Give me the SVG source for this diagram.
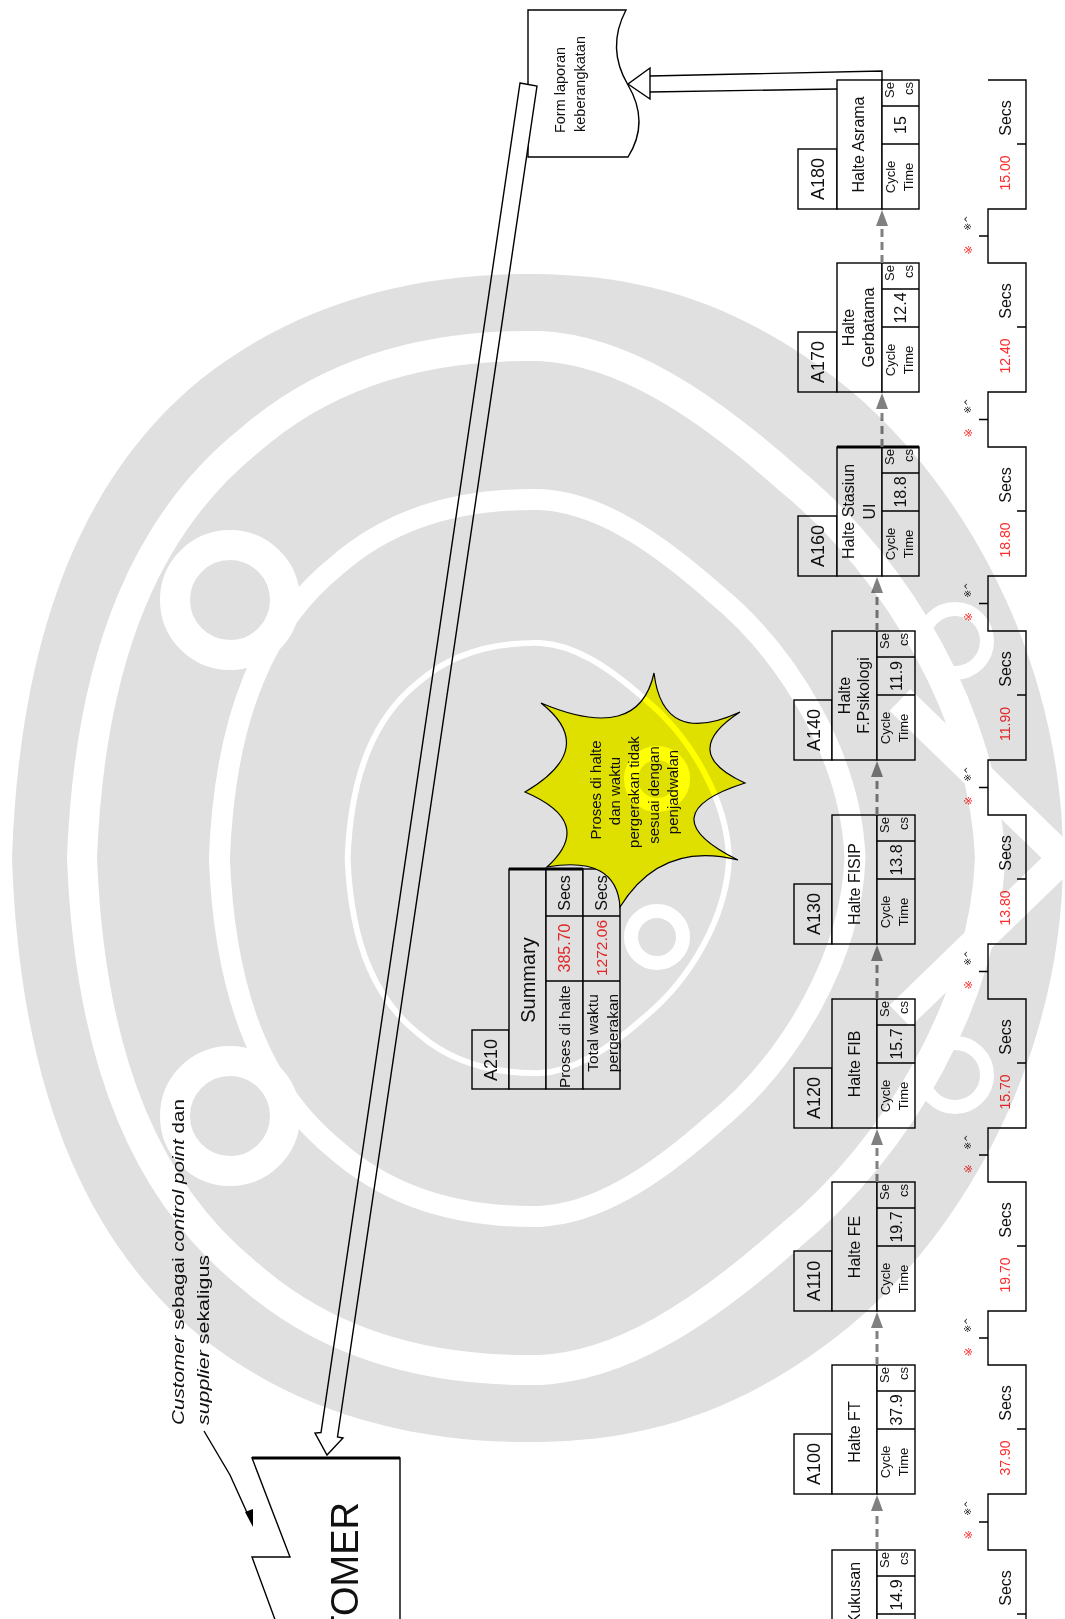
<svg xmlns="http://www.w3.org/2000/svg" width="1065" height="1619" viewBox="0 0 1065 1619">
<style>
text{font-family:"Liberation Sans",Arial,sans-serif;fill:#111}
.b{fill:#fff;stroke:#000;stroke-width:1.4}
.n{fill:none;stroke:#000;stroke-width:1.4}
.c{text-anchor:middle;dominant-baseline:central}
.e{text-anchor:end;dominant-baseline:central}
.s{text-anchor:start;dominant-baseline:central}
.red{fill:#ff2b2b}
.id{font-size:18px}
.nm{font-size:16px}
.dt{font-size:13px}
.vl{font-size:16px}
.ts{font-size:16px}
.tv{font-size:14px}
.g1{font-size:9px;font-family:"DejaVu Sans",sans-serif;fill:#000}
.g2{font-size:11px;font-family:"DejaVu Sans",sans-serif}
.dash{stroke:#808080;stroke-width:3;stroke-dasharray:8 5;fill:none}
.ah{fill:#808080}
.wb{fill:none;stroke:#fff;stroke-width:30}
.wt{fill:none;stroke:#fff;stroke-width:14}
</style>
<defs>
<path id="band" d="M990,858C985,720 900,570 790,480C700,400 620,350 540,346C430,344 330,370 250,440C150,520 90,650 82,858C90,1066 150,1196 250,1276C330,1346 430,1372 540,1370C620,1366 700,1316 790,1236C900,1146 985,996 990,858Z"/>
</defs>
<rect width="1065" height="1619" fill="#fff"/>

<g id="A180">
<rect class="b" x="798" y="149" width="39" height="60"/>
<rect class="b" x="837" y="80" width="45" height="129"/>
<rect class="b" x="882" y="80" width="37" height="129"/>
<path class="n" d="M882,106H919M882,144H919"/>
<text class="c id" transform="translate(818,179) rotate(-90)">A180</text>
<text class="c nm" transform="translate(858,144.5) rotate(-90)">Halte Asrama</text>
<text class="e dt" transform="translate(889,82) rotate(-90)">Se</text>
<text class="e dt" transform="translate(908,82) rotate(-90)">cs</text>
<text class="c vl" transform="translate(900.5,125) rotate(-90)">15</text>
<text class="c dt" transform="translate(890,177) rotate(-90)">Cycle</text>
<text class="c dt" transform="translate(908,177) rotate(-90)">Time</text>
</g>

<g id="A170">
<rect class="b" x="798" y="332" width="39" height="60"/>
<rect class="b" x="837" y="263" width="45" height="129"/>
<rect class="b" x="882" y="263" width="37" height="129"/>
<path class="n" d="M882,289H919M882,327H919"/>
<text class="c id" transform="translate(818,362) rotate(-90)">A170</text>
<text class="c nm" transform="translate(848.5,327.5) rotate(-90)">Halte</text>
<text class="c nm" transform="translate(868.5,327.5) rotate(-90)">Gerbatama</text>
<text class="e dt" transform="translate(889,265) rotate(-90)">Se</text>
<text class="e dt" transform="translate(908,265) rotate(-90)">cs</text>
<text class="c vl" transform="translate(900.5,308) rotate(-90)">12.4</text>
<text class="c dt" transform="translate(890,360) rotate(-90)">Cycle</text>
<text class="c dt" transform="translate(908,360) rotate(-90)">Time</text>
</g>

<g id="A160">
<rect class="b" x="798" y="516" width="39" height="60"/>
<rect class="b" x="837" y="447" width="45" height="129"/>
<rect class="b" x="882" y="447" width="37" height="129"/>
<path class="n" d="M882,473H919M882,511H919"/>
<path d="M837,447H919" stroke="#000" stroke-width="3"/>
<text class="c id" transform="translate(818,546) rotate(-90)">A160</text>
<text class="c nm" transform="translate(848.5,511.5) rotate(-90)">Halte Stasiun</text>
<text class="c nm" transform="translate(869,511.5) rotate(-90)">UI</text>
<text class="e dt" transform="translate(889,449) rotate(-90)">Se</text>
<text class="e dt" transform="translate(908,449) rotate(-90)">cs</text>
<text class="c vl" transform="translate(900.5,492) rotate(-90)">18.8</text>
<text class="c dt" transform="translate(890,544) rotate(-90)">Cycle</text>
<text class="c dt" transform="translate(908,544) rotate(-90)">Time</text>
</g>

<g id="A140">
<rect class="b" x="794" y="700" width="38" height="60"/>
<rect class="b" x="832" y="631" width="45" height="129"/>
<rect class="b" x="877" y="631" width="38" height="129"/>
<path class="n" d="M877,657H915M877,695H915"/>
<text class="c id" transform="translate(813.5,730) rotate(-90)">A140</text>
<text class="c nm" transform="translate(844,695.5) rotate(-90)">Halte</text>
<text class="c nm" transform="translate(863,695.5) rotate(-90)">F.Psikologi</text>
<text class="e dt" transform="translate(884,633) rotate(-90)">Se</text>
<text class="e dt" transform="translate(903,633) rotate(-90)">cs</text>
<text class="c vl" transform="translate(896,676) rotate(-90)">11.9</text>
<text class="c dt" transform="translate(885,728) rotate(-90)">Cycle</text>
<text class="c dt" transform="translate(903,728) rotate(-90)">Time</text>
</g>

<g id="A130">
<rect class="b" x="794" y="884" width="38" height="60"/>
<rect class="b" x="832" y="815" width="45" height="129"/>
<rect class="b" x="877" y="815" width="38" height="129"/>
<path class="n" d="M877,841H915M877,879H915"/>
<text class="c id" transform="translate(813.5,914) rotate(-90)">A130</text>
<text class="c nm" transform="translate(854,884) rotate(-90)">Halte FISIP</text>
<text class="e dt" transform="translate(884,817) rotate(-90)">Se</text>
<text class="e dt" transform="translate(903,817) rotate(-90)">cs</text>
<text class="c vl" transform="translate(896,860) rotate(-90)">13.8</text>
<text class="c dt" transform="translate(885,912) rotate(-90)">Cycle</text>
<text class="c dt" transform="translate(903,912) rotate(-90)">Time</text>
</g>

<g id="A120">
<rect class="b" x="794" y="1068" width="38" height="60"/>
<rect class="b" x="832" y="999" width="45" height="129"/>
<rect class="b" x="877" y="999" width="38" height="129"/>
<path class="n" d="M877,1025H915M877,1063H915"/>
<text class="c id" transform="translate(813.5,1098) rotate(-90)">A120</text>
<text class="c nm" transform="translate(854,1064) rotate(-90)">Halte FIB</text>
<text class="e dt" transform="translate(884,1001) rotate(-90)">Se</text>
<text class="e dt" transform="translate(903,1001) rotate(-90)">cs</text>
<text class="c vl" transform="translate(896,1044) rotate(-90)">15.7</text>
<text class="c dt" transform="translate(885,1096) rotate(-90)">Cycle</text>
<text class="c dt" transform="translate(903,1096) rotate(-90)">Time</text>
</g>

<g id="A110">
<rect class="b" x="794" y="1251" width="38" height="60"/>
<rect class="b" x="832" y="1182" width="45" height="129"/>
<rect class="b" x="877" y="1182" width="38" height="129"/>
<path class="n" d="M877,1208H915M877,1246H915"/>
<text class="c id" transform="translate(813.5,1281) rotate(-90)">A110</text>
<text class="c nm" transform="translate(854,1247) rotate(-90)">Halte FE</text>
<text class="e dt" transform="translate(884,1184) rotate(-90)">Se</text>
<text class="e dt" transform="translate(903,1184) rotate(-90)">cs</text>
<text class="c vl" transform="translate(896,1227) rotate(-90)">19.7</text>
<text class="c dt" transform="translate(885,1279) rotate(-90)">Cycle</text>
<text class="c dt" transform="translate(903,1279) rotate(-90)">Time</text>
</g>

<g id="A100">
<rect class="b" x="794" y="1434" width="38" height="60"/>
<rect class="b" x="832" y="1365" width="45" height="129"/>
<rect class="b" x="877" y="1365" width="38" height="129"/>
<path class="n" d="M877,1391H915M877,1429H915"/>
<text class="c id" transform="translate(813.5,1464) rotate(-90)">A100</text>
<text class="c nm" transform="translate(854,1432) rotate(-90)">Halte FT</text>
<text class="e dt" transform="translate(884,1367) rotate(-90)">Se</text>
<text class="e dt" transform="translate(903,1367) rotate(-90)">cs</text>
<text class="c vl" transform="translate(896,1410) rotate(-90)">37.9</text>
<text class="c dt" transform="translate(885,1462) rotate(-90)">Cycle</text>
<text class="c dt" transform="translate(903,1462) rotate(-90)">Time</text>
</g>

<g id="Kukusan">
<rect class="b" x="832" y="1550" width="45" height="129"/>
<rect class="b" x="877" y="1550" width="38" height="129"/>
<path class="n" d="M877,1576H915M877,1614H915"/>
<text class="c nm" transform="translate(854,1614) rotate(-90)">Halte Kukusan</text>
<text class="e dt" transform="translate(884,1552) rotate(-90)">Se</text>
<text class="e dt" transform="translate(903,1552) rotate(-90)">cs</text>
<text class="c vl" transform="translate(896,1595) rotate(-90)">14.9</text>
</g>

<g id="timeline">
<path class="n" d="M988,80H1026V209H988V263H1026V392H988V447H1026V576H988V631H1026V760H988V815H1026V944H988V999H1026V1128H988V1182H1026V1311H988V1365H1026V1494H988V1550H1026V1625"/>
<path class="n" d="M1017,144H1026M1017,327H1026M1017,511H1026M1017,695H1026M1017,879H1026M1017,1063H1026M1017,1246H1026M1017,1429H1026M1017,1614H1026M979,236H988M979,419.5H988M979,603.5H988M979,787.5H988M979,971.5H988M979,1155H988M979,1338H988M979,1522H988"/>
<text class="c ts" transform="translate(1005,118) rotate(-90)">Secs</text>
<text class="c ts" transform="translate(1005,301) rotate(-90)">Secs</text>
<text class="c ts" transform="translate(1005,485) rotate(-90)">Secs</text>
<text class="c ts" transform="translate(1005,669) rotate(-90)">Secs</text>
<text class="c ts" transform="translate(1005,853) rotate(-90)">Secs</text>
<text class="c ts" transform="translate(1005,1037) rotate(-90)">Secs</text>
<text class="c ts" transform="translate(1005,1220) rotate(-90)">Secs</text>
<text class="c ts" transform="translate(1005,1403) rotate(-90)">Secs</text>
<text class="c ts" transform="translate(1005,1588) rotate(-90)">Secs</text>
<text class="c tv red" transform="translate(1005,173) rotate(-90)">15.00</text>
<text class="c tv red" transform="translate(1005,356) rotate(-90)">12.40</text>
<text class="c tv red" transform="translate(1005,540) rotate(-90)">18.80</text>
<text class="c tv red" transform="translate(1005,724) rotate(-90)">11.90</text>
<text class="c tv red" transform="translate(1005,908) rotate(-90)">13.80</text>
<text class="c tv red" transform="translate(1005,1092) rotate(-90)">15.70</text>
<text class="c tv red" transform="translate(1005,1275) rotate(-90)">19.70</text>
<text class="c tv red" transform="translate(1005,1458) rotate(-90)">37.90</text>
<text class="c g1" transform="translate(968,223) rotate(-90)">※^</text>
<text class="c g1" transform="translate(968,406) rotate(-90)">※^</text>
<text class="c g1" transform="translate(968,590) rotate(-90)">※^</text>
<text class="c g1" transform="translate(968,774) rotate(-90)">※^</text>
<text class="c g1" transform="translate(968,958) rotate(-90)">※^</text>
<text class="c g1" transform="translate(968,1142) rotate(-90)">※^</text>
<text class="c g1" transform="translate(968,1325) rotate(-90)">※^</text>
<text class="c g1" transform="translate(968,1508) rotate(-90)">※^</text>
<text class="c g2 red" transform="translate(968,250) rotate(-90)">※</text>
<text class="c g2 red" transform="translate(968,433) rotate(-90)">※</text>
<text class="c g2 red" transform="translate(968,617) rotate(-90)">※</text>
<text class="c g2 red" transform="translate(968,801) rotate(-90)">※</text>
<text class="c g2 red" transform="translate(968,985) rotate(-90)">※</text>
<text class="c g2 red" transform="translate(968,1169) rotate(-90)">※</text>
<text class="c g2 red" transform="translate(968,1352) rotate(-90)">※</text>
<text class="c g2 red" transform="translate(968,1535) rotate(-90)">※</text>
</g>

<g id="A210">
<rect class="b" x="472" y="1030" width="37" height="59"/>
<rect class="b" x="509" y="869" width="37" height="220"/>
<rect class="b" x="546" y="869" width="37" height="220"/>
<rect class="b" x="583" y="869" width="37" height="220"/>
<path class="n" d="M546,916H620M546,981H620"/>
<path d="M509,869H583" stroke="#000" stroke-width="3"/>
<text class="c id" transform="translate(491,1060) rotate(-90)">A210</text>
<text class="c" font-size="20" transform="translate(528,980) rotate(-90)">Summary</text>
<text class="s" font-size="15.5" transform="translate(564,1088) rotate(-90)">Proses di halte</text>
<text class="c red" font-size="16" transform="translate(564.5,948) rotate(-90)">385.70</text>
<text class="c" font-size="16" transform="translate(564.5,893) rotate(-90)">Secs</text>
<text class="c" font-size="15.5" transform="translate(592,1033) rotate(-90)">Total waktu</text>
<text class="c" font-size="15.5" transform="translate(612,1033) rotate(-90)">pergerakan</text>
<text class="c red" font-size="15.5" transform="translate(601.5,948) rotate(-90)">1272.06</text>
<text class="c" font-size="16" transform="translate(601.5,893) rotate(-90)">Secs</text>
</g>

<g id="burst">
<path d="M541,703Q638.5,744 654,673Q663,747.5 740,712Q677.5,752.5 745,783Q646.5,814.5 738,860Q661,840.5 620,907Q616.5,855 547,867Q596,822.5 525,792Q599,748.5 541,703Z" fill="#ffff00" stroke="#000" stroke-width="1.2"/>
<g font-size="15">
<text class="c" transform="translate(595,790) rotate(-90)">Proses di halte</text>
<text class="c" transform="translate(614,791) rotate(-90)">dan waktu</text>
<text class="c" transform="translate(633,792) rotate(-90)">pergerakan tidak</text>
<text class="c" transform="translate(653,795) rotate(-90)">sesuai dengan</text>
<text class="c" transform="translate(672,792) rotate(-90)">penjadwalan</text>
</g>
</g>

<g id="form">
<path d="M626,10H528V157H628Q650,122 628,85Q606,48 626,10Z" fill="#fff" stroke="#000" stroke-width="1.4"/>
<text class="c" font-size="14.5" transform="translate(560,90) rotate(-90)">Form laporan</text>
<text class="c" font-size="14.5" transform="translate(580,84) rotate(-90)">keberangkatan</text>
</g>

<g id="customer">
<path d="M277,1625L252,1557H290L252,1458H400V1625" fill="#fff" stroke="#000" stroke-width="1.4"/>
<path d="M252,1458H400" stroke="#000" stroke-width="3"/>
<text font-size="38" text-anchor="end" transform="translate(358,1502) rotate(-90)">CUSTOMER</text>
</g>

<g id="note">
<text class="s" font-size="17" textLength="326" lengthAdjust="spacingAndGlyphs" transform="translate(178,1425) rotate(-90)"><tspan font-style="italic">Customer</tspan> sebagai <tspan font-style="italic">control point</tspan> dan</text>
<text class="s" font-size="17" textLength="170" lengthAdjust="spacingAndGlyphs" transform="translate(203,1425) rotate(-90)"><tspan font-style="italic">supplier</tspan> sekaligus</text>
</g>

<g id="connectors">
<path class="dash" d="M882,263V225M882,447V408M877,631V592M877,815V776M877,999V960M877,1182V1144M877,1365V1327M877,1550V1510"/>
<g class="ah">
<path d="M876,226H888L882,210Z"/>
<path d="M876,409H888L882,393Z"/>
<path d="M871,593H883L877,577Z"/>
<path d="M871,777H883L877,761Z"/>
<path d="M871,961H883L877,945Z"/>
<path d="M871,1145H883L877,1129Z"/>
<path d="M871,1328H883L877,1312Z"/>
<path d="M871,1511H883L877,1495Z"/>
</g>
<path class="n" d="M650,76L882,71V80M650,92L837,89"/>
<path class="n" d="M650,68L628,84L650,99Z"/>
<path d="M520,83L537,86L337.5,1437L343,1438L327,1455L315,1433L321,1432.5Z" fill="#fff" stroke="#000" stroke-width="1.4"/>
<path class="n" d="M204,1431L230,1475L249,1517"/>
<path d="M245,1512L253,1509L253,1527Z" fill="#000"/>
</g>

<g id="watermark" style="mix-blend-mode:multiply">
<path d="M1063,858C1063,680 980,500 850,390C740,300 640,276 540,274C420,272 300,300 200,380C90,470 20,620 12,858C20,1096 90,1246 200,1336C300,1416 420,1444 540,1442C640,1440 740,1416 850,1326C980,1216 1063,1036 1063,858Z" fill="#e0e0e0"/>
<use href="#band" class="wb"/>
<use href="#band" class="wb" transform="translate(540,858) scale(0.7) translate(-540,-858)"/>
<use href="#band" class="wt" transform="translate(540,858) scale(0.42) translate(-540,-858)"/>
<circle cx="657" cy="937" r="26" class="wt"/>
<circle cx="657" cy="779" r="26" class="wt"/>
<circle cx="230" cy="600" r="55" class="wb"/>
<circle cx="230" cy="1116" r="55" class="wb"/>
<circle cx="955" cy="1075" r="32" class="wt"/>
<circle cx="955" cy="641" r="32" class="wt"/>
<path class="wb" d="M1063,858L900,700M1063,858L900,1016"/>
</g>
</svg>
